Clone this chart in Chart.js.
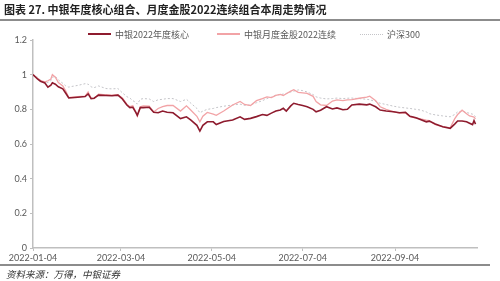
<!DOCTYPE html>
<html lang="zh">
<head>
<meta charset="UTF-8">
<title>中银年度核心组合走势</title>
<style>
  body { margin: 0; background: #fff; font-family: "Noto Sans CJK SC", sans-serif; }
  #wrap { position: relative; width: 500px; height: 281px; overflow: hidden; }
  #chart { position: absolute; left: 0; top: 0; }
  #title { position: absolute; left: 4px; top: 2px; font-size: 11px; line-height: 14px; font-weight: bold; color: #222; white-space: nowrap; }
  .rule { position: absolute; left: 0; height: 2px; background: #8c8c8c; }
  .item { position: absolute; top: 28px; height: 12px; display: flex; align-items: center; font-size: 9px; color: #595959; white-space: nowrap; }
  .swatch { width: 23px; height: 0; margin-right: 4px; }
  #source { position: absolute; left: 6px; top: 268px; font-size: 9.5px; line-height: 12px; font-style: italic; color: #333; white-space: nowrap; }
</style>
</head>
<body>
<div id="wrap">
  <canvas id="chart" width="500" height="281"></canvas>
  <div id="title">图表 27. 中银年度核心组合、月度金股2022连续组合本周走势情况</div>
  <div class="rule" style="top:19px; width:500px;"></div>
  <div id="legend"></div>
  <div class="rule" style="top:264px; width:490px;"></div>
  <div id="source">资料来源：万得，中银证券</div>
</div>

<script src="https://cdn.jsdelivr.net/npm/chart.js"></script>
<script>
// days counted from 2022-01-04
const days = [0,3,5,8,10,12,13,15,17,20,22,24,26,30,35,37,39,41,44,49,
  53,57,58,60,63,65,67,69,70,72,74,78,81,84,87,90,94,99,103,106,
  110,112,114,117,121,123,128,134,139,142,146,150,154,157,160,163,166,168,170,173,
  175,178,181,184,188,190,193,197,201,204,208,211,214,219,224,226,230,233,237,242,
  246,250,253,257,260,264,266,270,275,280,283,285,288,291,293,295,296,297];

const core = [1.000,0.975,0.962,0.952,0.928,0.940,0.953,0.945,0.930,0.918,
  0.893,0.866,0.867,0.870,0.874,0.889,0.862,0.864,0.882,0.880,
  0.878,0.882,0.875,0.860,0.825,0.810,0.812,0.782,0.765,0.810,
  0.810,0.812,0.783,0.780,0.790,0.783,0.780,0.747,0.757,0.738,
  0.708,0.675,0.708,0.728,0.728,0.712,0.730,0.738,0.757,0.742,
  0.748,0.758,0.770,0.765,0.778,0.790,0.796,0.806,0.790,0.820,
  0.835,0.828,0.822,0.815,0.800,0.786,0.795,0.815,0.802,0.808,
  0.798,0.800,0.825,0.830,0.826,0.830,0.815,0.796,0.790,0.786,
  0.780,0.783,0.760,0.752,0.742,0.728,0.732,0.715,0.700,0.690,
  0.715,0.733,0.733,0.728,0.720,0.712,0.735,0.715];

const monthly = [1.000,0.980,0.965,0.958,0.965,0.975,1.000,0.985,0.955,0.935,
  0.905,0.868,0.870,0.873,0.876,0.900,0.865,0.862,0.888,0.884,
  0.882,0.884,0.878,0.865,0.830,0.815,0.820,0.785,0.760,0.815,
  0.820,0.818,0.785,0.805,0.815,0.822,0.822,0.790,0.820,0.795,
  0.760,0.728,0.760,0.782,0.772,0.765,0.790,0.825,0.845,0.828,
  0.822,0.850,0.862,0.872,0.868,0.880,0.886,0.880,0.890,0.905,
  0.913,0.898,0.895,0.892,0.875,0.845,0.826,0.822,0.848,0.855,
  0.850,0.855,0.856,0.864,0.870,0.876,0.850,0.815,0.800,0.785,
  0.778,0.780,0.758,0.750,0.745,0.738,0.735,0.712,0.700,0.693,
  0.745,0.770,0.795,0.775,0.762,0.758,0.755,0.745];

const hs300 = [1.000,0.985,0.970,0.955,0.955,0.965,0.985,0.990,0.970,0.950,
  0.935,0.928,0.932,0.938,0.948,0.945,0.930,0.925,0.935,0.920,
  0.918,0.920,0.912,0.895,0.873,0.865,0.850,0.840,0.830,0.858,
  0.862,0.860,0.845,0.855,0.858,0.862,0.862,0.845,0.858,0.835,
  0.805,0.780,0.790,0.800,0.805,0.810,0.818,0.825,0.830,0.822,
  0.826,0.838,0.850,0.862,0.870,0.882,0.885,0.888,0.892,0.900,
  0.905,0.912,0.908,0.900,0.885,0.872,0.865,0.860,0.862,0.865,
  0.862,0.864,0.865,0.862,0.858,0.855,0.845,0.835,0.828,0.818,
  0.812,0.808,0.805,0.800,0.796,0.785,0.775,0.768,0.762,0.757,
  0.770,0.785,0.790,0.782,0.777,0.772,0.768,0.757];

const seriesNames = ['中银2022年度核心', '中银月度金股2022连续', '沪深300'];
const xTickDays = [0, 59, 120, 181, 243];
const xTickLabels = ['2022-01-04', '2022-03-04', '2022-05-04', '2022-07-04', '2022-09-04'];
const yTickLabels = ['0', '0.2', '0.4', '0.6', '0.8', '1', '1.2'];

const toPoints = vals => vals.map((v, i) => ({ x: days[i], y: v }));

const datasets = [
  { label: seriesNames[0], data: toPoints(core), borderColor: '#8e1b2e', borderWidth: 1.6 },
  { label: seriesNames[1], data: toPoints(monthly), borderColor: '#f2a3a6', borderWidth: 1.3 },
  { label: seriesNames[2], data: toPoints(hs300), borderColor: '#c4c4c8', borderWidth: 1, borderDash: [2, 2] }
];

// simple legend placed like the original
const legendLeft = [88, 217, 360];
const legend = document.getElementById('legend');
datasets.forEach((d, i) => {
  const item = document.createElement('div');
  item.className = 'item';
  item.style.left = legendLeft[i] + 'px';
  const sw = document.createElement('span');
  sw.className = 'swatch';
  sw.style.borderTop = (d.borderDash ? '1px dotted ' : '2px solid ') + d.borderColor;
  item.appendChild(sw);
  item.appendChild(document.createTextNode(d.label));
  legend.appendChild(item);
});

const tickFont = { family: 'Lato', size: 9 };

new Chart(document.getElementById('chart'), {
  type: 'line',
  data: { datasets: datasets },
  options: {
    responsive: false,
    animation: false,
    elements: { point: { radius: 0 }, line: { tension: 0, fill: false } },
    layout: { padding: { top: 40, right: 23, left: 0, bottom: 0 } },
    plugins: { legend: { display: false }, tooltip: { enabled: false } },
    scales: {
      x: {
        type: 'linear', min: 0, max: 298,
        grid: { drawOnChartArea: false, tickLength: 3, color: '#bfbfbf' },
        border: { color: '#bfbfbf', width: 1.5 },
        afterBuildTicks: axis => { axis.ticks = xTickDays.map(v => ({ value: v })); },
        ticks: {
          autoSkip: false, maxRotation: 0, padding: 2,
          color: '#595959', font: tickFont,
          callback: (v, i) => xTickLabels[i]
        },
        afterFit: s => { s.height = 33; }
      },
      y: {
        min: 0, max: 1.2,
        grid: { drawOnChartArea: false, tickLength: 3, color: '#bfbfbf' },
        border: { color: '#bfbfbf', width: 1.5 },
        ticks: {
          stepSize: 0.2, padding: 3,
          color: '#595959', font: tickFont,
          callback: (v, i) => yTickLabels[i]
        },
        afterFit: s => { s.width = 33; }
      }
    }
  }
});
</script>
</body>
</html>
